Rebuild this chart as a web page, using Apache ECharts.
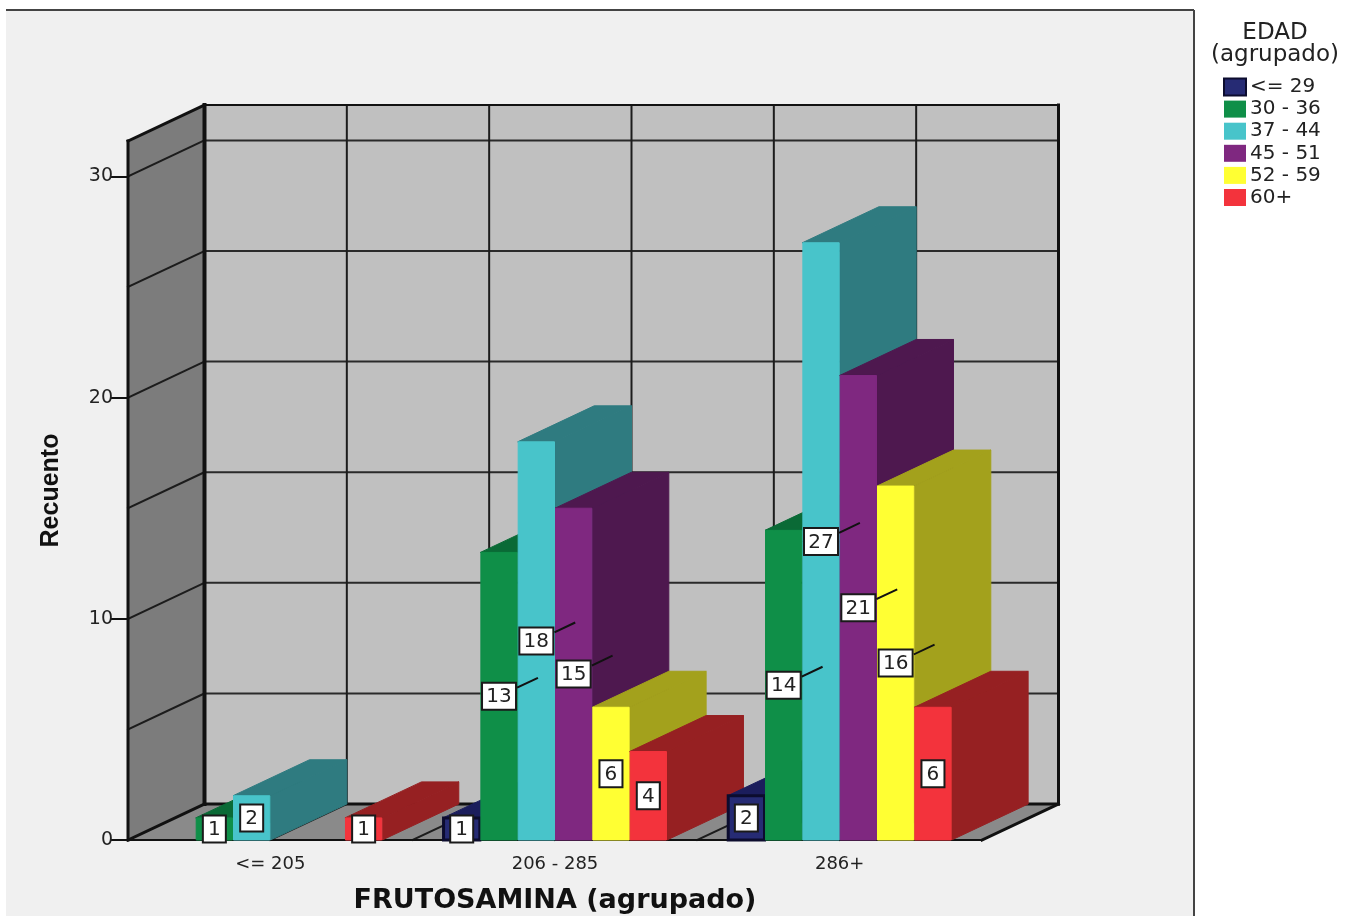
<!DOCTYPE html>
<html>
<head>
<meta charset="utf-8">
<style>html,body{margin:0;padding:0;background:#fff}#chart{width:1359px;height:916px}</style>
<script src="https://cdn.jsdelivr.net/npm/echarts@6/dist/echarts.min.js"></script>
</head>
<body>
<div id="chart"></div>
<script>
// Counts of patients by fructosamine band and age group
const categories = ['<= 205', '206 - 285', '286+'];
const ageGroups = ['<= 29', '30 - 36', '37 - 44', '45 - 51', '52 - 59', '60+'];
const young = [0, 1, 2];
const age30 = [1, 13, 14];
const age37 = [2, 18, 27];
const age45 = [0, 15, 21];
const age52 = [0, 6, 16];
const older = [1, 4, 6];
const groupValues = [young, age30, age37, age45, age52, older];
const valueTicks = [0, 10, 20, 30];
const wallGrid = [5, 10, 15, 20, 25, 30];
const wallTop = 31.6;

// Face colours per age group
const frontColors = ['#262b74', '#0f8f48', '#48c4ca', '#7f2880', '#ffff33', '#f3333c'];
const sideColors = ['#1b1d5c', '#0a6a36', '#2f7b80', '#4e184f', '#a3a11c', '#962022'];
const edgeColors = ['#0c0c2e', '#0f8f48', '#48c4ca', '#7f2880', '#ffff33', '#f3333c'];

// Oblique projection used for the 3D box
const depthX = 76.5;
const depthY = -36;
const barShare = 0.1311;

function line(x1, y1, x2, y2, width, color, z2) {
  return {
    type: 'line', z2: z2,
    shape: { x1, y1, x2, y2 },
    style: { stroke: color, lineWidth: width, lineCap: 'square' }
  };
}

function face(points, color, stroke, z2) {
  return {
    type: 'polygon', z2: z2,
    shape: { points },
    style: { fill: color, stroke: stroke, lineWidth: 1, lineJoin: 'round' }
  };
}

// Walls, floor and gridlines of the box
function renderFrame(params, api) {
  const origin = api.coord([0, 0]);
  const band = api.size([1, 0])[0];
  const left = origin[0] - band / 2;
  const right = left + band * categories.length;
  const floorY = origin[1];
  const topY = api.coord([0, wallTop])[1];
  const dark = '#1c1c1c';
  const kids = [
    face([[left + depthX, topY + depthY], [right + depthX, topY + depthY], [right + depthX, floorY + depthY], [left + depthX, floorY + depthY]], '#c0c0c0', '#c0c0c0', 0),
    face([[left, topY], [left + depthX, topY + depthY], [left + depthX, floorY + depthY], [left, floorY]], '#7c7c7c', '#7c7c7c', 0),
    face([[left, floorY], [left + depthX, floorY + depthY], [right + depthX, floorY + depthY], [right, floorY]], '#8a8a8a', '#8a8a8a', 0)
  ];
  wallGrid.forEach(function (v) {
    const y = api.coord([0, v])[1];
    kids.push(line(left, y, left + depthX, y + depthY, 2, dark, 1));
    kids.push(line(left + depthX, y + depthY, right + depthX, y + depthY, 2, '#2a2a2a', 1));
  });
  for (let i = 1; i < categories.length * 2; i++) {
    const x = left + i * band / 2;
    kids.push(line(x, floorY, x + depthX, floorY + depthY, 2, dark, 1));
    kids.push(line(x + depthX, floorY + depthY, x + depthX, topY + depthY, 2, dark, 1));
  }
  kids.push(line(left, topY, left, floorY, 3, '#111', 2));
  kids.push(line(left, topY, left + depthX, topY + depthY, 3, '#111', 2));
  kids.push(line(left + depthX, topY + depthY, right + depthX, topY + depthY, 2, '#111', 2));
  kids.push(line(left + depthX, topY + depthY, left + depthX, floorY + depthY, 4, '#111', 2));
  kids.push(line(right + depthX, topY + depthY, right + depthX, floorY + depthY, 3, '#111', 2));
  kids.push(line(left + depthX, floorY + depthY, right + depthX, floorY + depthY, 3, '#111', 2));
  kids.push(line(left, floorY, left + depthX, floorY + depthY, 3, '#111', 2));
  kids.push(line(right, floorY, right + depthX, floorY + depthY, 3, '#111', 2));
  return { type: 'group', children: kids };
}

// One box per count, painted left to right so nearer faces hide the sides behind them
function renderBox(seriesIndex) {
  return function (params, api) {
    const cat = api.value(0);
    const value = api.value(1);
    if (!value) return null;
    const band = api.size([1, 0])[0];
    const w = band * barShare;
    const base = api.coord([cat, 0]);
    const top = api.coord([cat, value]);
    const x0 = base[0] + (seriesIndex - 3) * w;
    const x1 = x0 + w;
    const y0 = base[1];
    const y1 = top[1];
    const order = 10 + cat * 10 + seriesIndex;
    const edge = edgeColors[seriesIndex];
    const front = {
      type: 'rect', z2: order,
      shape: { x: x0 + 0.5, y: y1, width: w - 1, height: y0 - y1 },
      style: { fill: frontColors[seriesIndex], stroke: edge, lineWidth: seriesIndex === 0 ? 3 : 1 }
    };
    const side = face([[x1, y1], [x1 + depthX, y1 + depthY], [x1 + depthX, y0 + depthY], [x1, y0]], sideColors[seriesIndex], sideColors[seriesIndex], order);
    const lid = face([[x0, y1], [x0 + depthX, y1 + depthY], [x1 + depthX, y1 + depthY], [x1, y1]], sideColors[seriesIndex], sideColors[seriesIndex], order);

    // Value tag centred on the front face, with a leader line on two-digit counts
    const text = String(value);
    const cx = (x0 + x1) / 2;
    const cy = (y0 + y1) / 2;
    const boxW = text.length > 1 ? 34 : 23;
    const boxH = 27;
    const kids = [side, lid, front];
    if (text.length > 1) {
      kids.push(line(cx + boxW / 2 + 2, cy - 9, cx + boxW / 2 + 21, cy - 18, 2, '#111', 100));
    }
    kids.push({
      type: 'rect', z2: 101,
      shape: { x: cx - boxW / 2, y: cy - boxH / 2, width: boxW, height: boxH },
      style: { fill: '#fff', stroke: '#1a1a1a', lineWidth: 2 }
    });
    kids.push({
      type: 'text', z2: 102,
      style: {
        text: text, x: cx, y: cy + 1, align: 'center', verticalAlign: 'middle',
        fill: '#222', font: '20px "DejaVu Sans"'
      }
    });
    return { type: 'group', children: kids };
  };
}

const boxSeries = ageGroups.map(function (name, s) {
  return {
    name: name,
    type: 'custom',
    z: 3,
    clip: false,
    renderItem: renderBox(s),
    itemStyle: { color: frontColors[s] },
    encode: { x: 0, y: 1 },
    data: groupValues[s].map(function (v, i) { return [i, v]; })
  };
});

const chart = echarts.init(document.getElementById('chart'), null, { renderer: 'canvas' });
chart.setOption({
  animation: false,
  backgroundColor: '#ffffff',
  textStyle: { fontFamily: '"DejaVu Sans"', color: '#222' },
  graphic: {
    elements: [
      { type: 'rect', z: -10, silent: true, shape: { x: 6, y: 10, width: 1188, height: 906 }, style: { fill: '#f0f0f0' } },
      { type: 'line', z: -9, silent: true, shape: { x1: 6, y1: 10, x2: 1194, y2: 10 }, style: { stroke: '#444', lineWidth: 2 } },
      { type: 'line', z: -9, silent: true, shape: { x1: 1194, y1: 10, x2: 1194, y2: 916 }, style: { stroke: '#444', lineWidth: 2 } }
    ]
  },
  title: {
    text: 'EDAD\n(agrupado)',
    left: 1275,
    top: 22,
    padding: 0,
    textAlign: 'center',
    textStyle: { fontFamily: '"DejaVu Sans"', fontWeight: 'normal', fontSize: 23, lineHeight: 22, color: '#222' }
  },
  legend: {
    orient: 'vertical',
    left: 1223,
    top: 77,
    itemWidth: 22,
    itemHeight: 17,
    itemGap: 2.1,
    icon: 'rect',
    selectedMode: false,
    padding: 0,
    textStyle: { fontFamily: '"DejaVu Sans"', fontSize: 20, color: '#222', padding: [1, 0, 0, -1] },
    data: ageGroups.map(function (name, s) {
      return { name: name, itemStyle: s === 0 ? { borderColor: '#0c0c2e', borderWidth: 2 } : {} };
    })
  },
  grid: { left: 128, right: 377, top: 141, bottom: 76, outerBoundsMode: 'none', containLabel: false },
  xAxis: {
    type: 'category',
    data: categories,
    z: 2,
    name: 'FRUTOSAMINA (agrupado)',
    nameLocation: 'center',
    nameGap: 47,
    nameTextStyle: { fontFamily: '"DejaVu Sans"', fontWeight: 'bold', fontSize: 27, color: '#111' },
    axisLine: { lineStyle: { color: '#111', width: 2 } },
    axisTick: { alignWithLabel: true, length: 11, lineStyle: { color: '#111', width: 2 } },
    axisLabel: { fontFamily: '"DejaVu Sans"', fontSize: 18, color: '#222', margin: 15, interval: 0 },
    splitLine: { show: false }
  },
  yAxis: {
    type: 'value',
    min: 0,
    max: wallTop,
    z: 2,
    name: 'Recuento',
    nameLocation: 'center',
    nameGap: 64,
    nameTextStyle: { fontFamily: '"Liberation Sans"', fontWeight: 'bold', fontSize: 25, color: '#111' },
    axisLine: { show: true, lineStyle: { color: '#111', width: 2 } },
    axisTick: { show: true, customValues: valueTicks, length: 17, lineStyle: { color: '#111', width: 2 } },
    axisLabel: { customValues: valueTicks, fontFamily: '"DejaVu Sans"', fontSize: 19, color: '#222', margin: 15, padding: [3, 0, 0, 0] },
    splitLine: { show: false }
  },
  series: [{
    type: 'custom',
    name: 'frame',
    z: 1,
    silent: true,
    clip: false,
    renderItem: renderFrame,
    encode: { x: 0, y: 1 },
    data: [[0, 0]]
  }].concat(boxSeries)
});
</script>
</body>
</html>
